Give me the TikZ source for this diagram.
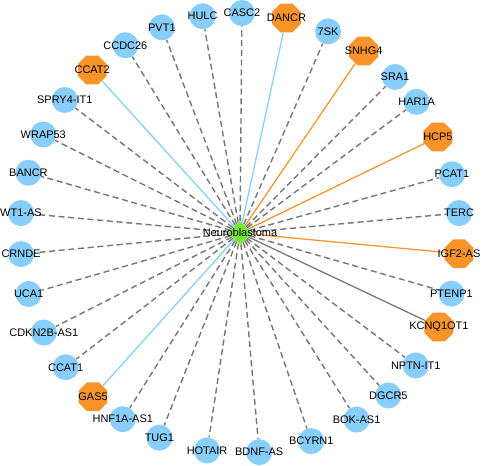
\documentclass[tikz,border=0pt]{standalone}
\usepackage{fontspec}
\setmainfont{Liberation Sans}
\definecolor{lncblue}{RGB}{135, 206, 250}
\definecolor{keyorange}{RGB}{248, 148, 40}
\definecolor{hubgreen}{RGB}{110, 235, 50}
\definecolor{edgegray}{RGB}{118, 118, 118}
\usetikzlibrary{shapes.geometric, backgrounds}

\begin{document}
\begin{tikzpicture}[
    lnc/.style={circle, fill=lncblue, minimum size=0.65cm, inner sep=0pt},
    keylnc/.style={regular polygon, regular polygon sides=8, fill=keyorange, minimum size=0.78cm, inner sep=0pt},
    hub/.style={diamond, fill=hubgreen, minimum size=0.6cm, inner sep=0pt},
    lbl/.style={font=\fontsize{7.8}{9}\selectfont, inner sep=0pt},
    assoc/.style={edgegray, line width=1pt, dash pattern=on 4.3pt off 2.6pt},
    linkblue/.style={lncblue, line width=0.9pt},
    linkorange/.style={keyorange, line width=0.9pt},
    linkgray/.style={edgegray, line width=0.9pt}]
      \useasboundingbox (-6,-5.8) rectangle (6.1,5.825);

      % hub
      \node (hub) [hub, label={[lbl]center:Neuroblastoma}] at (0,0) {};

      % ring of lncRNAs
      \node (terc) [lnc, label={[lbl]center:TERC}] at (5.2:5.5) {};
      \node (pcat1) [lnc, label={[lbl]center:PCAT1}] at (15.5:5.5) {};
      \node (hcp5) [keylnc, label={[lbl]center:HCP5}] at (25.9:5.5) {};
      \node (har1a) [lnc, label={[lbl]center:HAR1A}] at (36.6:5.5) {};
      \node (sra1) [lnc, label={[lbl]center:SRA1}] at (45.2:5.5) {};
      \node (snhg4) [keylnc, label={[lbl]center:SNHG4}] at (55.8:5.5) {};
      \node (sevensk) [lnc, label={[lbl]center:7SK}] at (66.4:5.5) {};
      \node (dancr) [keylnc, label={[lbl]center:DANCR}] at (77.8:5.5) {};
      \node (casc2) [lnc, label={[lbl]center:CASC2}] at (89.5:5.5) {};
      \node (hulc) [lnc, label={[lbl]center:HULC}] at (99.8:5.5) {};
      \node (pvt1) [lnc, label={[lbl]center:PVT1}] at (110.8:5.5) {};
      \node (ccdc26) [lnc, label={[lbl]center:CCDC26}] at (121.4:5.5) {};
      \node (ccat2) [keylnc, label={[lbl]center:CCAT2}] at (132.2:5.5) {};
      \node (spry4) [lnc, label={[lbl]center:SPRY4-IT1}] at (142.8:5.5) {};
      \node (wrap53) [lnc, label={[lbl]center:WRAP53}] at (153.4:5.5) {};
      \node (bancr) [lnc, label={[lbl]center:BANCR}] at (164.1:5.5) {};
      \node (wt1as) [lnc, label={[lbl]center:WT1-AS}] at (174.8:5.5) {};
      \node (crnde) [lnc, label={[lbl]center:CRNDE}] at (185.5:5.5) {};
      \node (uca1) [lnc, label={[lbl]center:UCA1}] at (196.1:5.5) {};
      \node (cdkn2b) [lnc, label={[lbl]center:CDKN2B-AS1}] at (206.9:5.5) {};
      \node (ccat1) [lnc, label={[lbl]center:CCAT1}] at (217.6:5.5) {};
      \node (gas5) [keylnc, label={[lbl]center:GAS5}] at (228.1:5.5) {};
      \node (hnf1a) [lnc, label={[lbl]center:HNF1A-AS1}] at (237.8:5.5) {};
      \node (tug1) [lnc, label={[lbl]center:TUG1}] at (248.5:5.5) {};
      \node (hotair) [lnc, label={[lbl]center:HOTAIR}] at (261.4:5.5) {};
      \node (bdnfas) [lnc, label={[lbl]center:BDNF-AS}] at (275:5.5) {};
      \node (bcyrn1) [lnc, label={[lbl]center:BCYRN1}] at (288.9:5.5) {};
      \node (bokas1) [lnc, label={[lbl]center:BOK-AS1}] at (302:5.5) {};
      \node (dgcr5) [lnc, label={[lbl]center:DGCR5}] at (312.4:5.5) {};
      \node (nptn) [lnc, label={[lbl]center:NPTN-IT1}] at (323:5.5) {};
      \node (kcnq) [keylnc, label={[lbl]center:KCNQ1OT1}] at (334.7:5.5) {};
      \node (ptenp1) [lnc, label={[lbl]center:PTENP1}] at (344:5.5) {};
      \node (igf2as) [keylnc, label={[lbl]center:IGF2-AS}] at (354.6:5.5) {};

      \begin{pgfonlayer}{background}
        \foreach \n in {terc, pcat1, har1a, sra1, sevensk, casc2, hulc, pvt1, ccdc26, spry4, wrap53, bancr, wt1as, crnde, uca1, cdkn2b, ccat1, hnf1a, tug1, hotair, bdnfas, bcyrn1, bokas1, dgcr5, nptn, ptenp1}
          \draw[assoc] (hub) -- (\n);
        \draw[linkblue] (hub) -- (ccat2);
        \draw[linkblue] (hub) -- (dancr);
        \draw[linkblue] (hub) -- (gas5);
        \draw[linkorange] (hub) -- (snhg4);
        \draw[linkorange] (hub) -- (hcp5);
        \draw[linkorange] (hub) -- (igf2as);
        \draw[linkgray] (hub) -- (kcnq);
      \end{pgfonlayer}
    \end{tikzpicture}
\end{document}
